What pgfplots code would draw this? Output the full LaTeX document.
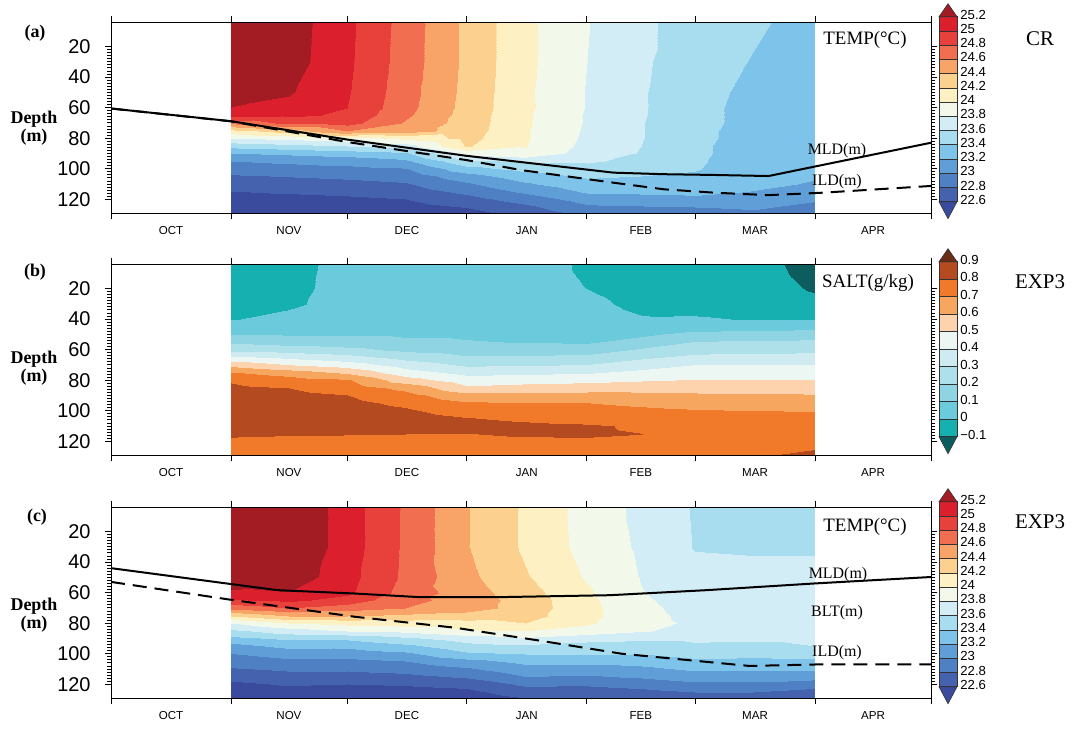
\documentclass[border=0pt]{standalone}
\usepackage{fontspec}
\setmainfont{Liberation Serif}
\setsansfont{Liberation Sans}
\usepackage{pgfplots}
\pgfplotsset{compat=1.18}

% temperature colours (low -> high)
\definecolor{T0}{RGB}{58,74,157}
\definecolor{T1}{RGB}{69,98,174}
\definecolor{T2}{RGB}{80,128,196}
\definecolor{T3}{RGB}{95,158,215}
\definecolor{T4}{RGB}{125,195,234}
\definecolor{T5}{RGB}{168,220,239}
\definecolor{T6}{RGB}{210,237,245}
\definecolor{T7}{RGB}{242,248,234}
\definecolor{T8}{RGB}{253,241,195}
\definecolor{T9}{RGB}{252,209,143}
\definecolor{T10}{RGB}{248,164,105}
\definecolor{T11}{RGB}{241,111,80}
\definecolor{T12}{RGB}{232,65,59}
\definecolor{T13}{RGB}{220,31,44}
\definecolor{T14}{RGB}{164,28,35}
% salinity colours (low -> high)
\definecolor{S0}{RGB}{13,93,95}
\definecolor{S1}{RGB}{22,176,177}
\definecolor{S2}{RGB}{107,202,219}
\definecolor{S3}{RGB}{142,212,227}
\definecolor{S4}{RGB}{174,224,234}
\definecolor{S5}{RGB}{205,235,240}
\definecolor{S6}{RGB}{236,246,243}
\definecolor{S7}{RGB}{252,211,173}
\definecolor{S8}{RGB}{247,166,96}
\definecolor{S9}{RGB}{240,122,42}
\definecolor{S10}{RGB}{180,75,32}
\definecolor{S11}{RGB}{108,45,22}

\pgfplotsset{
  colormap={tempcm}{rgb255=(58,74,157) rgb255=(69,98,174) rgb255=(80,128,196)
    rgb255=(95,158,215) rgb255=(125,195,234) rgb255=(168,220,239) rgb255=(210,237,245)
    rgb255=(242,248,234) rgb255=(253,241,195) rgb255=(252,209,143) rgb255=(248,164,105)
    rgb255=(241,111,80) rgb255=(232,65,59) rgb255=(220,31,44) rgb255=(164,28,35)},
  colormap={saltcm}{rgb255=(13,93,95) rgb255=(22,176,177) rgb255=(107,202,219)
    rgb255=(142,212,227) rgb255=(174,224,234) rgb255=(205,235,240) rgb255=(236,246,243)
    rgb255=(252,211,173) rgb255=(247,166,96) rgb255=(240,122,42) rgb255=(180,75,32)
    rgb255=(108,45,22)},
  panel/.style={
    scale only axis, width=410bp, height=95.5bp, anchor=north west,
    xmin=0, xmax=212, ymin=4, ymax=129, y dir=reverse,
    axis on top, enlargelimits=false,
    xtick={0,31,61,92,123,151,182,212}, xticklabels={},
    extra x ticks={15.5,46,76.5,107.5,137,166.5,197},
    extra x tick labels={OCT,NOV,DEC,JAN,FEB,MAR,APR},
    extra x tick style={major tick length=0pt,
      tick label style={font=\sffamily\fontsize{5.8}{6}\selectfont, yshift=-3bp}},
    ytick={20,40,60,80,100,120}, minor y tick num=9,
    tick align=outside, major tick length=3.2bp, minor tick length=1.8bp,
    yticklabel style={font=\sffamily\fontsize{10}{10}\selectfont, xshift=-3.5bp},
    /pgf/number format/assume math mode=true,
    tick style={line width=0.4pt, black},
    axis line style={line width=0.5pt},
    colormap access=piecewise constant,
  },
  mld/.style={black, line width=1bp},
  ild/.style={black, line width=1bp, dash pattern=on 7bp off 4bp},
}

\newcommand\drawcbar[5]{%
  \foreach \i in {1,...,#3}{%
    \filldraw[fill=#4\i, draw=black!80, line width=0.3bp]
      (469.5bp,{(#1+(\i-1)*#2)*1bp}) rectangle (478.5bp,{(#1+\i*#2)*1bp});
  }
  \pgfmathtruncatemacro\ntop{#3+1}%
  \filldraw[fill=#4\ntop, draw=black!80, line width=0.3bp]
    (469.5bp,{(#1+#3*#2)*1bp}) -- (478.5bp,{(#1+#3*#2)*1bp}) -- (474bp,{(#1+#3*#2+6.5)*1bp}) -- cycle;
  \filldraw[fill=#40, draw=black!80, line width=0.3bp]
    (469.5bp,{#1*1bp}) -- (478.5bp,{#1*1bp}) -- (474bp,{(#1-8.5)*1bp}) -- cycle;
  \foreach \v [count=\k from 0] in {#5}{%
    \node[anchor=west, inner sep=0pt, font=\sffamily\fontsize{6.6}{7}\selectfont]
      at (480bp,{(#1+\k*#2+1)*1bp}) {\v};
  }
}

\begin{document}
\begin{tikzpicture}[x=1bp,y=1bp]
\useasboundingbox (0,0) rectangle (539,-365);

% ---------------- (a) TEMP CR ----------------
\begin{axis}[panel, at={(55.5bp,-11bp)}, colormap name=tempcm,
  point meta min=22.4, point meta max=25.4]
\addplot[surf, shader=interp, mesh/cols=11, point meta=explicit] coordinates {
(31,4)[25.4] (46,4)[25.3] (61,4)[25.05] (76,4)[24.72] (92,4)[24.35] (107,4)[24.05] (123,4)[23.81] (137,4)[23.63] (151,4)[23.53] (166,4)[23.43] (182,4)[23.33]
(31,30)[25.4] (46,30)[25.29] (61,30)[25.04] (76,30)[24.71] (92,30)[24.35] (107,30)[24.05] (123,30)[23.8] (137,30)[23.63] (151,30)[23.49] (166,30)[23.39] (182,30)[23.3]
(31,50)[25.39] (46,50)[25.22] (61,50)[25.02] (76,50)[24.69] (92,50)[24.34] (107,50)[24.04] (123,50)[23.79] (137,50)[23.62] (151,50)[23.46] (166,50)[23.36] (182,50)[23.28]
(31,60)[25.19] (46,60)[25.14] (61,60)[25.0] (76,60)[24.67] (92,60)[24.33] (107,60)[24.04] (123,60)[23.79] (137,60)[23.62] (151,60)[23.45] (166,60)[23.35] (182,60)[23.27]
(31,65)[25.1] (46,65)[25.05] (61,65)[24.96] (76,65)[24.64] (92,65)[24.32] (107,65)[24.03] (123,65)[23.78] (137,65)[23.62] (151,65)[23.45] (166,65)[23.35] (182,65)[23.27]
(31,70)[24.65] (46,70)[24.85] (61,70)[24.88] (76,70)[24.58] (92,70)[24.31] (107,70)[24.03] (123,70)[23.78] (137,70)[23.61] (151,70)[23.45] (166,70)[23.35] (182,70)[23.27]
(31,75)[24.12] (46,75)[24.29] (61,75)[24.6] (76,75)[24.5] (92,75)[24.3] (107,75)[24.02] (123,75)[23.77] (137,75)[23.61] (151,75)[23.44] (166,75)[23.34] (182,75)[23.26]
(31,80)[23.8] (46,80)[23.87] (61,80)[23.93] (76,80)[24.05] (92,80)[24.27] (107,80)[24.02] (123,80)[23.76] (137,80)[23.61] (151,80)[23.44] (166,80)[23.34] (182,80)[23.26]
(31,85)[23.47] (46,85)[23.53] (61,85)[23.6] (76,85)[23.7] (92,85)[24.22] (107,85)[24.01] (123,85)[23.74] (137,85)[23.6] (151,85)[23.43] (166,85)[23.33] (182,85)[23.25]
(31,90)[23.2] (46,90)[23.25] (61,90)[23.3] (76,90)[23.37] (92,90)[23.87] (107,90)[23.98] (123,90)[23.7] (137,90)[23.59] (151,90)[23.43] (166,90)[23.33] (182,90)[23.25]
(31,95)[23.0] (46,95)[23.04] (61,95)[23.08] (76,95)[23.16] (92,95)[23.55] (107,95)[23.64] (123,95)[23.62] (137,95)[23.56] (151,95)[23.42] (166,95)[23.33] (182,95)[23.24]
(31,100)[22.89] (46,100)[22.92] (61,100)[22.94] (76,100)[22.98] (92,100)[23.32] (107,100)[23.46] (123,100)[23.54] (137,100)[23.5] (151,100)[23.41] (166,100)[23.32] (182,100)[23.24]
(31,105)[22.78] (46,105)[22.81] (61,105)[22.84] (76,105)[22.88] (92,105)[23.12] (107,105)[23.31] (123,105)[23.43] (137,105)[23.4] (151,105)[23.38] (166,105)[23.3] (182,105)[23.22]
(31,110)[22.69] (46,110)[22.71] (61,110)[22.74] (76,110)[22.78] (92,110)[22.97] (107,110)[23.17] (123,110)[23.33] (137,110)[23.31] (151,110)[23.3] (166,110)[23.25] (182,110)[23.18]
(31,115)[22.59] (46,115)[22.62] (61,115)[22.65] (76,115)[22.69] (92,115)[22.84] (107,115)[23.03] (123,115)[23.22] (137,115)[23.23] (151,115)[23.24] (166,115)[23.19] (182,115)[23.12]
(31,120)[22.52] (46,120)[22.53] (61,120)[22.56] (76,120)[22.6] (92,120)[22.73] (107,120)[22.89] (123,120)[23.09] (137,120)[23.13] (151,120)[23.16] (166,120)[23.12] (182,120)[23.03]
(31,125)[22.42] (46,125)[22.45] (61,125)[22.47] (76,125)[22.52] (92,125)[22.61] (107,125)[22.75] (123,125)[22.96] (137,125)[22.98] (151,125)[23.0] (166,125)[23.03] (182,125)[22.94]
(31,129)[22.38] (46,129)[22.39] (61,129)[22.41] (76,129)[22.46] (92,129)[22.53] (107,129)[22.68] (123,129)[22.85] (137,129)[22.9] (151,129)[22.92] (166,129)[22.97] (182,129)[22.9]
};
\addplot[mld] coordinates {(0,60.6) (31,68.9) (61,80.9) (92,91.6) (130,102.6) (143,103.6) (156,104.1) (170,104.8) (212,83)};
\addplot[ild] coordinates {(0,60.6) (31,69) (61,82.5) (92,94.4) (106,100.9) (130,109.2) (143,113.5) (156,115.7) (170,117.3) (184,115.7) (212,111.3)};
\end{axis}

% ---------------- (b) SALT EXP3 ----------------
\begin{axis}[panel, at={(55.5bp,-132bp)}, colormap name=saltcm,
  point meta min=-0.2, point meta max=1.0]
\addplot[surf, shader=interp, mesh/cols=11, point meta=explicit] coordinates {
(31,4)[-0.05] (46,4)[-0.03] (61,4)[0.03] (76,4)[0.045] (92,4)[0.05] (107,4)[0.03] (123,4)[-0.01] (137,4)[-0.04] (151,4)[-0.05] (166,4)[-0.07] (182,4)[-0.13]
(31,20)[-0.045] (46,20)[-0.025] (61,20)[0.032] (76,20)[0.045] (92,20)[0.05] (107,20)[0.03] (123,20)[-0.001] (137,20)[-0.035] (151,20)[-0.045] (166,20)[-0.06] (182,20)[-0.11]
(31,30)[-0.04] (46,30)[-0.015] (61,30)[0.035] (76,30)[0.048] (92,30)[0.055] (107,30)[0.04] (123,30)[0.02] (137,30)[-0.02] (151,30)[-0.03] (166,30)[-0.04] (182,30)[-0.08]
(31,40)[-0.005] (46,40)[0.025] (61,40)[0.045] (76,40)[0.055] (92,40)[0.06] (107,40)[0.05] (123,40)[0.04] (137,40)[0.007] (151,40)[0.008] (166,40)[-0.005] (182,40)[-0.003]
(31,45)[0.042] (46,45)[0.055] (61,45)[0.067] (76,45)[0.068] (92,45)[0.074] (107,45)[0.065] (123,45)[0.05] (137,45)[0.043] (151,45)[0.063] (166,45)[0.065] (182,45)[0.071]
(31,50)[0.088] (46,50)[0.088] (61,50)[0.089] (76,50)[0.086] (92,50)[0.088] (107,50)[0.08] (123,50)[0.07] (137,50)[0.083] (151,50)[0.126] (166,50)[0.136] (182,50)[0.148]
(31,55)[0.186] (46,55)[0.16] (61,55)[0.144] (76,55)[0.119] (92,55)[0.105] (107,55)[0.097] (123,55)[0.09] (137,55)[0.134] (151,55)[0.206] (166,55)[0.216] (182,55)[0.218]
(31,60)[0.28] (46,60)[0.257] (61,60)[0.231] (76,60)[0.181] (92,60)[0.156] (107,60)[0.154] (123,60)[0.15] (137,60)[0.217] (151,60)[0.26] (166,60)[0.269] (182,60)[0.275]
(31,65)[0.419] (46,65)[0.374] (61,65)[0.333] (76,65)[0.263] (92,65)[0.209] (107,65)[0.218] (123,65)[0.226] (137,65)[0.28] (151,65)[0.326] (166,65)[0.332] (182,65)[0.337]
(31,70)[0.573] (46,70)[0.505] (61,70)[0.455] (76,70)[0.359] (92,70)[0.286] (107,70)[0.295] (123,70)[0.304] (137,70)[0.358] (151,70)[0.403] (166,70)[0.403] (182,70)[0.403]
(31,75)[0.712] (46,75)[0.66] (61,75)[0.591] (76,75)[0.45] (92,75)[0.375] (107,75)[0.385] (123,75)[0.395] (137,75)[0.43] (151,75)[0.453] (166,75)[0.453] (182,75)[0.454]
(31,80)[0.789] (46,80)[0.743] (61,80)[0.713] (76,80)[0.547] (92,80)[0.447] (107,80)[0.459] (123,80)[0.472] (137,80)[0.491] (151,80)[0.505] (166,80)[0.504] (182,80)[0.504]
(31,85)[0.82] (46,85)[0.8] (61,85)[0.758] (76,85)[0.673] (92,85)[0.523] (107,85)[0.543] (123,85)[0.553] (137,85)[0.562] (151,85)[0.558] (166,85)[0.555] (182,85)[0.556]
(31,90)[0.845] (46,90)[0.825] (61,90)[0.801] (76,90)[0.735] (92,90)[0.631] (107,90)[0.634] (123,90)[0.635] (137,90)[0.625] (151,90)[0.617] (166,90)[0.612] (182,90)[0.606]
(31,95)[0.87] (46,95)[0.85] (61,95)[0.826] (76,95)[0.78] (92,95)[0.711] (107,95)[0.705] (123,95)[0.701] (137,95)[0.683] (151,95)[0.668] (166,95)[0.659] (182,95)[0.651]
(31,100)[0.86] (46,100)[0.855] (61,100)[0.85] (76,100)[0.816] (92,100)[0.757] (107,100)[0.744] (123,100)[0.734] (137,100)[0.72] (151,100)[0.708] (166,100)[0.703] (182,100)[0.697]
(31,105)[0.845] (46,105)[0.845] (61,105)[0.84] (76,105)[0.845] (92,105)[0.803] (107,105)[0.782] (123,105)[0.767] (137,105)[0.75] (151,105)[0.73] (166,105)[0.728] (182,105)[0.72]
(31,110)[0.83] (46,110)[0.828] (61,110)[0.823] (76,110)[0.823] (92,110)[0.836] (107,110)[0.82] (123,110)[0.81] (137,110)[0.79] (151,110)[0.75] (166,110)[0.745] (182,110)[0.74]
(31,115)[0.81] (46,115)[0.805] (61,115)[0.803] (76,115)[0.8] (92,115)[0.798] (107,115)[0.808] (123,115)[0.812] (137,115)[0.801] (151,115)[0.755] (166,115)[0.758] (182,115)[0.76]
(31,120)[0.788] (46,120)[0.785] (61,120)[0.78] (76,120)[0.78] (92,120)[0.781] (107,120)[0.785] (123,120)[0.787] (137,120)[0.785] (151,120)[0.76] (166,120)[0.77] (182,120)[0.78]
(31,125)[0.76] (46,125)[0.76] (61,125)[0.76] (76,125)[0.76] (92,125)[0.764] (107,125)[0.77] (123,125)[0.773] (137,125)[0.78] (151,125)[0.765] (166,125)[0.78] (182,125)[0.798]
(31,129)[0.74] (46,129)[0.74] (61,129)[0.74] (76,129)[0.745] (92,129)[0.75] (107,129)[0.755] (123,129)[0.76] (137,129)[0.775] (151,129)[0.77] (166,129)[0.79] (182,129)[0.82]
};
\end{axis}

% ---------------- (c) TEMP EXP3 ----------------
\begin{axis}[panel, at={(55.5bp,-253.5bp)}, colormap name=tempcm,
  point meta min=22.4, point meta max=25.4]
\addplot[surf, shader=interp, mesh/cols=11, point meta=explicit] coordinates {
(31,4)[25.4] (46,4)[25.4] (61,4)[25.1] (76,4)[24.77] (92,4)[24.41] (107,4)[24.17] (123,4)[23.92] (137,4)[23.75] (151,4)[23.58] (166,4)[23.5] (182,4)[23.5]
(31,30)[25.4] (46,30)[25.4] (61,30)[25.1] (76,30)[24.77] (92,30)[24.41] (107,30)[24.17] (123,30)[23.93] (137,30)[23.77] (151,30)[23.59] (166,30)[23.58] (182,30)[23.58]
(31,50)[25.4] (46,50)[25.33] (61,50)[25.07] (76,50)[24.76] (92,50)[24.45] (107,50)[24.22] (123,50)[23.98] (137,50)[23.79] (151,50)[23.66] (166,50)[23.65] (182,50)[23.65]
(31,60)[25.15] (46,60)[25.19] (61,60)[25.04] (76,60)[24.72] (92,60)[24.5] (107,60)[24.28] (123,60)[24.03] (137,60)[23.81] (151,60)[23.69] (166,60)[23.66] (182,60)[23.66]
(31,65)[24.98] (46,65)[25.05] (61,65)[24.92] (76,65)[24.66] (92,65)[24.52] (107,65)[24.31] (123,65)[24.05] (137,65)[23.83] (151,65)[23.71] (166,65)[23.67] (182,65)[23.67]
(31,70)[24.67] (46,70)[24.8] (61,70)[24.7] (76,70)[24.6] (92,70)[24.5] (107,70)[24.31] (123,70)[24.06] (137,70)[23.85] (151,70)[23.73] (166,70)[23.68] (182,70)[23.68]
(31,75)[24.2] (46,75)[24.4] (61,75)[24.4] (76,75)[24.35] (92,75)[24.3] (107,75)[24.28] (123,75)[24.06] (137,75)[23.86] (151,75)[23.75] (166,75)[23.69] (182,75)[23.69]
(31,80)[23.8] (46,80)[24.0] (61,80)[24.07] (76,80)[24.1] (92,80)[24.13] (107,80)[24.2] (123,80)[24.03] (137,80)[23.86] (151,80)[23.77] (166,80)[23.7] (182,80)[23.69]
(31,85)[23.55] (46,85)[23.7] (61,85)[23.8] (76,85)[23.85] (92,85)[23.97] (107,85)[24.0] (123,85)[23.92] (137,85)[23.82] (151,85)[23.72] (166,85)[23.67] (182,85)[23.66]
(31,90)[23.35] (46,90)[23.45] (61,90)[23.45] (76,90)[23.57] (92,90)[23.7] (107,90)[23.78] (123,90)[23.68] (137,90)[23.65] (151,90)[23.64] (166,90)[23.62] (182,90)[23.63]
(31,95)[23.13] (46,95)[23.25] (61,95)[23.24] (76,95)[23.35] (92,95)[23.53] (107,95)[23.57] (123,95)[23.52] (137,95)[23.5] (151,95)[23.57] (166,95)[23.57] (182,95)[23.6]
(31,100)[22.99] (46,100)[23.08] (61,100)[23.09] (76,100)[23.15] (92,100)[23.36] (107,100)[23.4] (123,100)[23.4] (137,100)[23.4] (151,100)[23.47] (166,100)[23.46] (182,100)[23.47]
(31,105)[22.88] (46,105)[22.96] (61,105)[22.95] (76,105)[23.0] (92,105)[23.14] (107,105)[23.26] (123,105)[23.26] (137,105)[23.28] (151,105)[23.36] (166,105)[23.35] (182,105)[23.35]
(31,110)[22.78] (46,110)[22.83] (61,110)[22.83] (76,110)[22.87] (92,110)[22.97] (107,110)[23.12] (123,110)[23.11] (137,110)[23.15] (151,110)[23.23] (166,110)[23.23] (182,110)[23.22]
(31,115)[22.66] (46,115)[22.72] (61,115)[22.71] (76,115)[22.74] (92,115)[22.82] (107,115)[22.99] (123,115)[22.97] (137,115)[23.02] (151,115)[23.1] (166,115)[23.1] (182,115)[23.07]
(31,120)[22.56] (46,120)[22.62] (61,120)[22.6] (76,120)[22.62] (92,120)[22.66] (107,120)[22.84] (123,120)[22.83] (137,120)[22.88] (151,120)[22.96] (166,120)[22.96] (182,120)[22.9]
(31,125)[22.49] (46,125)[22.52] (61,125)[22.5] (76,125)[22.52] (92,125)[22.55] (107,125)[22.7] (123,125)[22.7] (137,125)[22.74] (151,125)[22.8] (166,125)[22.8] (182,125)[22.72]
(31,129)[22.44] (46,129)[22.46] (61,129)[22.42] (76,129)[22.45] (92,129)[22.48] (107,129)[22.6] (123,129)[22.6] (137,129)[22.64] (151,129)[22.72] (166,129)[22.7] (182,129)[22.58]
};
\addplot[mld] coordinates {(0,44) (31,54.4) (43,58.4) (63,60.6) (80,63) (100,63) (129,61.7) (154,58.4) (182,54) (212,49.8)};
\addplot[ild] coordinates {(0,53) (31,64.7) (63,75.8) (89,83) (111,91.5) (132,100) (165,108) (183,107) (212,107)};
\end{axis}

% colour bars
\drawcbar{-100.85}{7.115}{13}{T}{22.6,22.8,23,23.2,23.4,23.6,23.8,24,24.2,24.4,24.6,24.8,25,25.2}
\drawcbar{-218.35}{17.5/2}{10}{S}{−0.1,0,0.1,0.2,0.3,0.4,0.5,0.6,0.7,0.8,0.9}
\drawcbar{-343.35}{7.115}{13}{T}{22.6,22.8,23,23.2,23.4,23.6,23.8,24,24.2,24.4,24.6,24.8,25,25.2}

% texts
\begin{scope}[every node/.style={inner sep=0pt}]
\node[font=\bfseries\fontsize{9}{9}\selectfont] at (17.5,-16.5) {(a)};
\node[font=\bfseries\fontsize{9}{9}\selectfont] at (17.5,-136) {(b)};
\node[font=\bfseries\fontsize{9}{9}\selectfont] at (18.5,-258.5) {(c)};
\node[font=\bfseries\fontsize{9}{9}\selectfont, align=center] at (17,-64) {Depth\\(m)};
\node[font=\bfseries\fontsize{9}{9}\selectfont, align=center] at (17,-184) {Depth\\(m)};
\node[font=\bfseries\fontsize{9}{9}\selectfont, align=center] at (17,-307.5) {Depth\\(m)};
\node[font=\fontsize{9.5}{10}\selectfont] at (432.5,-20) {TEMP(°C)};
\node[font=\fontsize{8}{8}\selectfont] at (418.5,-75.5) {MLD(m)};
\node[font=\fontsize{8}{8}\selectfont] at (418.5,-91) {ILD(m)};
\node[font=\fontsize{9.5}{10}\selectfont] at (434,-141.5) {SALT(g/kg)};
\node[font=\fontsize{9.5}{10}\selectfont] at (432.5,-263.5) {TEMP(°C)};
\node[font=\fontsize{8}{8}\selectfont] at (419,-287.5) {MLD(m)};
\node[font=\fontsize{8}{8}\selectfont] at (418.5,-306.5) {BLT(m)};
\node[font=\fontsize{8}{8}\selectfont] at (418.5,-326.5) {ILD(m)};
\node[font=\fontsize{10.5}{11}\selectfont] at (520,-19.5) {CR};
\node[font=\fontsize{10.5}{11}\selectfont] at (520,-141) {EXP3};
\node[font=\fontsize{10.5}{11}\selectfont] at (520,-261) {EXP3};
\end{scope}
\end{tikzpicture}
\end{document}
